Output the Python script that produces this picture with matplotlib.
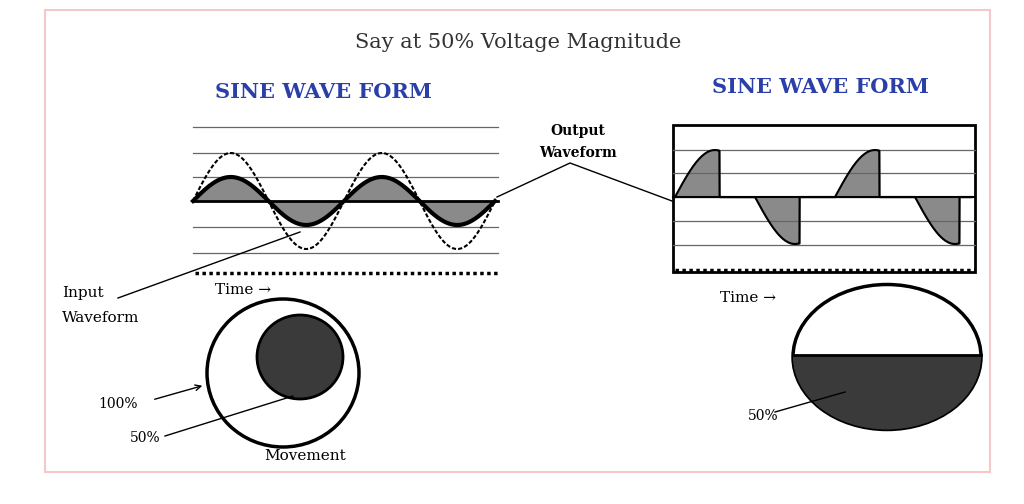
import numpy as np
import matplotlib.pyplot as plt
from matplotlib.patches import Rectangle, Ellipse

# diagram values
title = "Say at 50% Voltage Magnitude"
panel_title = "SINE WAVE FORM"
input_amp = 48      # full input wave
output_amp = 24     # reduced wave (50%)
cycles = 2
cut_angle = 100     # degrees where the chopped wave drops
grid_left = [127, 153, 177, 227, 253]
grid_right = [150, 173, 221, 245]
labels_pct = ["100%", "50%", "50%"]

fig = plt.figure(figsize=(10.24, 5.04), dpi=100)
ax = fig.add_axes([0, 0, 1, 1])
ax.set_xlim(0, 1024)
ax.set_ylim(504, 0)
ax.axis('off')
serif = 'DejaVu Serif'

ax.add_patch(Rectangle((45, 10), 945, 462, fill=False, ec='#f4c8c8', lw=1.5))
ax.text(518, 42, title, ha='center', va='center', fontsize=15, family=serif, color='#333333')

# left panel
ax.text(323, 92, panel_title, ha='center', va='center', fontsize=15, family=serif,
        weight='bold', color='#2a40a8')
ax.text(820, 87, panel_title, ha='center', va='center', fontsize=15, family=serif,
        weight='bold', color='#2a40a8')
for y in grid_left:
    ax.plot([193, 498], [y, y], color='#666666', lw=0.9)
ax.plot([193, 498], [201, 201], color='k', lw=2)
ax.plot([195, 498], [273, 273], color='k', lw=2.5, ls=(0, (1, 1)))
x0, per = 193, 151
x = np.linspace(x0, x0 + cycles * per, 600)
th = 2 * np.pi * (x - x0) / per
big = 201 - input_amp * np.sin(th)
small = 201 - output_amp * np.sin(th)
ax.fill_between(x, 201, small, color='#8a8a8a')
ax.plot(x, small, color='k', lw=3)
ax.plot(x, big, color='k', lw=1.5, ls=(0, (2, 1)))

# right panel
ax.add_patch(Rectangle((673, 125), 302, 147, fill=False, ec='k', lw=2))
for y in grid_right:
    ax.plot([673, 975], [y, y], color='#666666', lw=0.9)
ax.plot([673, 975], [197, 197], color='k', lw=1.5)
ax.plot([675, 975], [270, 270], color='k', lw=2.5, ls=(0, (1, 1)))
x0, per = 675, 160
xr = np.linspace(x0, 972, 1500)
deg = (360 * (xr - x0) / per) % 360
v = np.sin(np.radians(deg))
v[(deg % 180) > cut_angle] = 0
yr = 197 - 47 * v
ax.fill_between(xr, 197, yr, color='#8a8a8a')
ax.plot(xr, yr, color='k', lw=1.5)

# annotations
ax.text(62, 293, "Input", fontsize=11, family=serif, va='center')
ax.text(62, 318, "Waveform", fontsize=11, family=serif, va='center')
ax.plot([118, 300], [298, 232], color='k', lw=1)
ax.text(215, 290, "Time \u2192", fontsize=11, family=serif, va='center')
ax.text(720, 298, "Time \u2192", fontsize=11, family=serif, va='center')
ax.text(578, 131, "Output", fontsize=10, family=serif, weight='bold', ha='center', va='center')
ax.text(578, 153, "Waveform", fontsize=10, family=serif, weight='bold', ha='center', va='center')
ax.plot([497, 570, 672], [197, 163, 201], color='k', lw=1)

# circles
ax.add_patch(Ellipse((283, 373), 152, 148, fill=False, ec='k', lw=2.5))
ax.add_patch(Ellipse((300, 357), 86, 84, color='#3a3a3a', ec='k', lw=2))
ax.text(98, 404, labels_pct[0], fontsize=10, family=serif, va='center')
ax.annotate("", xy=(205, 385), xytext=(152, 400),
            arrowprops=dict(arrowstyle='->', color='k', lw=1))
ax.text(130, 438, labels_pct[1], fontsize=10, family=serif, va='center')
ax.plot([165, 293], [436, 396], color='k', lw=1)
ax.text(305, 456, "Movement", fontsize=11, family=serif, ha='center', va='center')

ell = Ellipse((887, 357), 188, 145, fc='none', ec='k', lw=2.5)
ax.add_patch(ell)
lower = Rectangle((790, 355), 200, 80, color='#3a3a3a')
ax.add_patch(lower)
lower.set_clip_path(ell)
ax.plot([793, 981], [355, 355], color='k', lw=2)
ax.text(748, 416, labels_pct[2], fontsize=10, family=serif, va='center')
ax.plot([775, 845], [412, 392], color='k', lw=1)

fig.savefig('out.png', dpi=100, facecolor='white')
